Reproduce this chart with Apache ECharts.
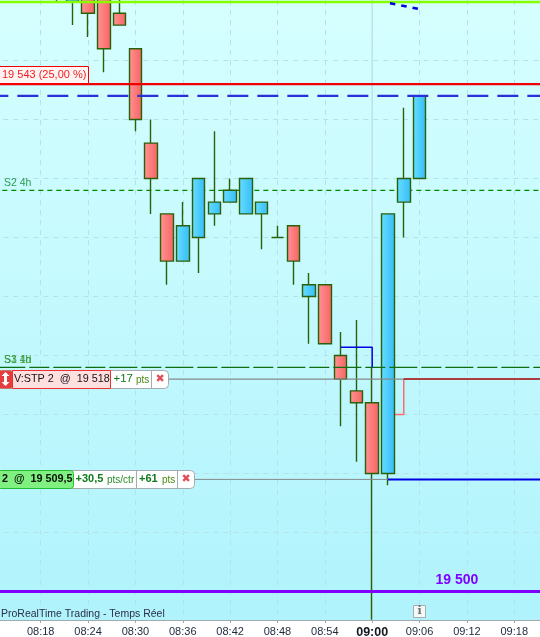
<!DOCTYPE html>
<html><head><meta charset="utf-8">
<style>html,body{margin:0;padding:0;background:#fff}#c{width:540px;height:637px}</style>
<script src="https://cdn.jsdelivr.net/npm/echarts@6/dist/echarts.min.js"></script>
</head><body><div id="c"></div>
<script>
// time = minutes since midnight; [time, open, close, low, high]
const candles = [
 [500,19553,19551,19550,19555],[502,19550,19553,19548,19554],[504,19552,19549,19547,19553],
 [506,19552,19546,19544,19553],[508,19549,19548,19548,19551],[510,19546,19540,19539,19546],
 [512,19538,19535,19532,19540],[514,19532,19528,19526,19532],[516,19528,19531,19528,19533],
 [518,19530,19535,19527,19535],[520,19532,19533,19531,19539],[522,19533,19534,19533,19535],
 [524,19532,19535,19532,19535],[526,19532,19533,19529,19533],[528,19530,19530,19530,19531],
 [530,19531,19528,19526,19531],[532,19525,19526,19521,19527],[534,19526,19521,19521,19526],
 [536,19520,19518,19514,19522],[538,19517,19516,19511,19523],[540,19516,19510,19497.6,19519],
 [542,19510,19532,19509,19532],[544,19533,19535,19530,19541],[546,19535,19542,19535,19542]
];
const tickLabels = ['08:18','08:24','08:30','08:36','08:42','08:48','08:54','09:00','09:06','09:12','09:18'];
const tickTimes  = [498,504,510,516,522,528,534,540,546,552,558];
const priceGrid  = [19500,19505,19510,19515,19520,19525,19530,19535,19540,19545,19550];
const topLevel = 19549.96, targetLevel = 19543, entryDash = 19542, s2Level = 19534, pivotLevel = 19519, floorLevel = 19500;
const stopPrice = 19518, entryPrice = 19509.5;
const stopStep = [[542,19515],[544,19515],[544,19518]];
const blueStep = [[536,19520.7],[540,19520.7],[540,19519]];
const blueDots = [[542.25,19549.85],[545.8,19549.38]];

const X0 = 492, X1 = 564;
function level(p, a, b, color, width, dash, z, off){
  return {type:'line',z:z,silent:true,symbol:'none',animation:false,
    data:[[a===undefined?X0:a,p],[b===undefined?X1:b,p]],
    lineStyle:{color:color,width:width,type:dash||'solid',dashOffset:off||0}};
}
function path(pts,color,width,dash,z){
  return {type:'line',z:z,silent:true,symbol:'none',animation:false,data:pts,
    lineStyle:{color:color,width:width,type:dash||'solid'}};
}
const grad=(a,b)=>new echarts.graphic.LinearGradient(0,0,1,0,[{offset:0,color:a},{offset:1,color:b}]);
const chart = echarts.init(document.getElementById('c'),null,{renderer:'canvas'});
const gridStyle={color:'#b4e2e8',width:1,type:[5,5]};
chart.setOption({
  animation:false,backgroundColor:'#ffffff',
  grid:{show:true,left:-6.66,right:-21.6,top:0,bottom:17,borderWidth:0,outerBoundsMode:'none',containLabel:false,
    backgroundColor:new echarts.graphic.LinearGradient(0,0,0,1,[{offset:0,color:'#d6ffff'},{offset:1,color:'#b0f3fc'}])},
  xAxis:{type:'value',min:X0,max:X1,interval:6,
    axisLine:{onZero:false,lineStyle:{color:'#a0a9ae',width:1}},
    axisTick:{length:3,lineStyle:{color:'#a0a9ae'}},
    axisLabel:{margin:6,color:'#1c2a3a',fontFamily:'Liberation Sans',fontSize:11,hideOverlap:false,
      formatter:v=>{const i=tickTimes.indexOf(v);if(i<0)return '';return v===540?'{b|'+tickLabels[i]+'}':tickLabels[i];},
      rich:{b:{fontWeight:'bold',fontSize:12.5,color:'#101820',fontFamily:'Liberation Sans'}}},
    splitLine:{show:true,lineStyle:gridStyle}},
  yAxis:{type:'value',min:19497.585,max:19550.127,
    axisLine:{show:false},axisLabel:{show:false},
    axisTick:{show:false,customValues:priceGrid},
    splitLine:{show:true,lineStyle:gridStyle}},
  series:[
    path([[540,19497.585],[540,19550.127]],'#c0e2ea',1.5,'solid',1),
    level(s2Level,undefined,undefined,'#008a00',1.2,[5,4],1),
    path(stopStep,'#ff6a6a',1.5,'solid',1),
    {type:'candlestick',z:2,silent:true,barWidth:13,clip:true,
      encode:{x:0,y:[1,2,3,4]},data:candles,
      itemStyle:{color:grad('#68deff','#34bcf8'),color0:grad('#ff9494','#f86262'),
        borderColor:'#2a6008',borderColor0:'#2a6008',borderColorDoji:'#2a6008',borderWidth:1.4}},
    level(topLevel,undefined,undefined,'#88ff00',2.6,'solid',3),
    level(targetLevel,undefined,undefined,'#f00000',2.2,'solid',3),
    level(entryDash,undefined,undefined,'#2a2fd8',2.2,[21,9],3,-24),
    level(pivotLevel,undefined,undefined,'#0f6e0f',1.2,[28,4,20,4],3,-4),
    level(stopPrice,undefined,544,'#858a8c',1.2,'solid',3),
    level(stopPrice,544,undefined,'#a00000',1.5,'solid',3),
    level(entryPrice,undefined,542,'#858a8c',1,'solid',3),
    level(entryPrice,542,undefined,'#0000e0',2,'solid',3),
    path(blueStep,'#0000e0',1.5,'solid',3),
    path(blueDots,'#0000e0',2.5,[5.5,6],3),
    level(floorLevel,undefined,undefined,'#8000ff',3.2,'solid',3)
  ]
});

const F='Liberation Sans', Z=100;
const py=p=>Math.round(chart.convertToPixel({yAxisIndex:0},p));
const rect=(x,y,w,h,fill,stroke,r)=>({type:'rect',z:Z,silent:true,shape:{x:x+.5,y:y+.5,width:w,height:h,r:r||0},
  style:{fill:fill,stroke:stroke||null,lineWidth:stroke?1:0}});
const text=(x,y,s,color,size,weight,fam,align)=>({type:'text',z:Z+1,silent:true,x:x,y:y,
  style:{text:s,fill:color,font:(weight||'normal')+' '+size+'px "'+(fam||F)+'"',textAlign:align||'left',textVerticalAlign:'middle'}});
const els=[];
// target tag
const ty=py(targetLevel);
els.push(rect(-2,ty-18,90,17,'#fff4f4','#f00000'));
els.push(text(2,ty-9,'19 543 (25,00 %)','#f02020',11));
// pivot labels
els.push(text(4,py(s2Level)-7,'S2 4h','#2a9a50',10.5));
els.push(text(4,py(pivotLevel)-7,'S1 1d','#6a9a10',10.5));
els.push(text(4,py(pivotLevel)-7,'S3 4h','#2a9a50',10.5));
// stop tag
const sy=py(stopPrice);
els.push(rect(-3,sy-9,171,18,'#ffffff','#a4acb0',4));
els.push(rect(-3,sy-9,15,18,'#e63c3c',null,3));
els.push(rect(12,sy-9,98,18,'#ffe0de','#f03030'));
els.push({type:'polygon',z:Z+1,silent:true,shape:{points:[[5.5,sy-7],[9.5,sy-3],[7,sy-3],[7,sy+3],[9.5,sy+3],[5.5,sy+7],[1.5,sy+3],[4,sy+3],[4,sy-3],[1.5,sy-3]]},style:{fill:'#ffffff'}});
els.push(text(14,sy,'V:STP 2  @  19 518','#181018',10.8));
els.push(text(113.5,sy,'+17','#0f7a1a',11.5));
els.push(text(136,sy+1,'pts','#4c8a14',10));
els.push({type:'line',z:Z+1,silent:true,shape:{x1:151.5,y1:sy-9,x2:151.5,y2:sy+9},style:{stroke:'#a4acb0',lineWidth:1}});
els.push(text(160,sy,'✖','#e05058',11,'normal','DejaVu Sans','center'));
// entry tag
const ey=py(entryPrice);
els.push(rect(-3,ey-9,197,18,'#ffffff','#a4acb0',4));
els.push(rect(-3,ey-9,76,18,'#80f080','#22c030',3));
els.push(text(2,ey,'2  @  19 509,5','#081008',10.8,'bold'));
els.push(text(75.5,ey,'+30,5','#0f7a1a',11,'bold'));
els.push(text(107,ey+1,'pts/ctr','#2c8a30',10));
els.push({type:'line',z:Z+1,silent:true,shape:{x1:136.5,y1:ey-9,x2:136.5,y2:ey+9},style:{stroke:'#a4acb0',lineWidth:1}});
els.push(text(139,ey,'+61','#0f7a1a',11,'bold'));
els.push(text(162,ey+1,'pts','#4c8a14',10));
els.push({type:'line',z:Z+1,silent:true,shape:{x1:177.5,y1:ey-9,x2:177.5,y2:ey+9},style:{stroke:'#a4acb0',lineWidth:1}});
els.push(text(186,ey,'✖','#e05058',11,'normal','DejaVu Sans','center'));
// floor label
els.push(text(435.5,py(floorLevel)-12,'19 500','#8000ff',14,'bold'));
// footer
els.push(text(1,614,'ProRealTime Trading - Temps Réel','#2a2f48',10.5));
els.push(rect(413,605,12,12,'#f4f8f8','#a8aeb0'));
els.push(text(419.5,611.5,'i','#707070',11,'bold','DejaVu Serif','center'));
chart.setOption({graphic:{elements:els}});
</script></body></html>
